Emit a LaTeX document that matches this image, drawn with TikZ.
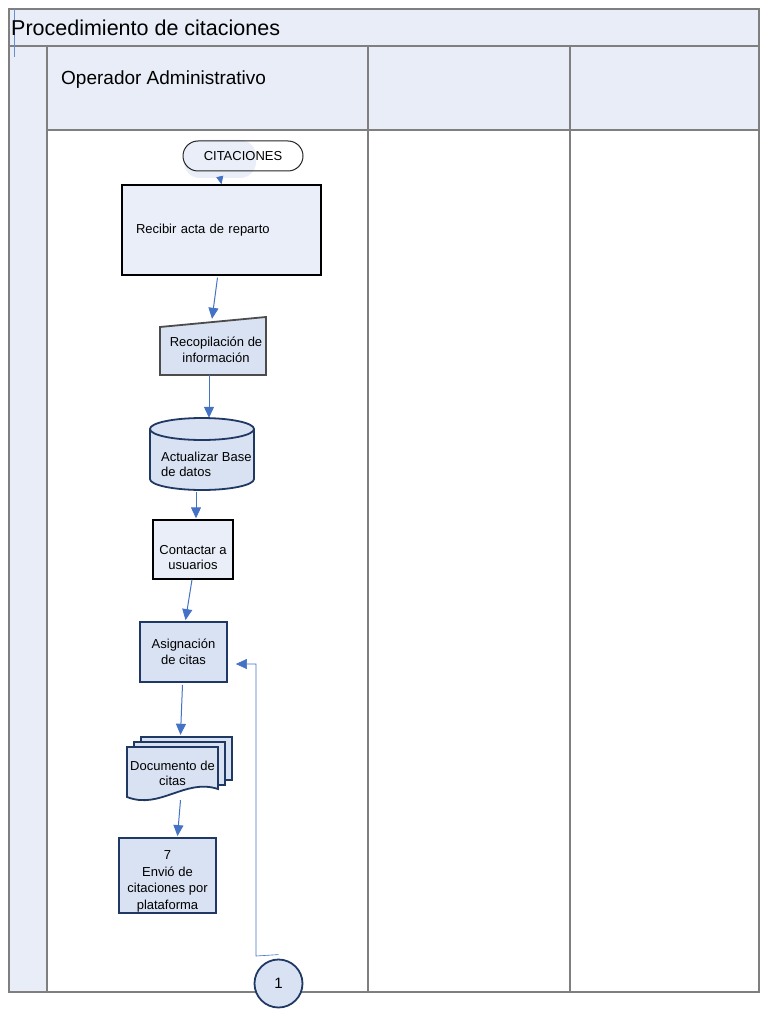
\documentclass[tikz,border=0pt]{standalone}
\usepackage{fontspec}
\setmainfont{Liberation Sans}
\usetikzlibrary{positioning,calc,arrows.meta}
\definecolor{banda}{HTML}{E8EDF7}
\definecolor{claro}{HTML}{E9EEF8}
\definecolor{relleno}{HTML}{D9E2F3}
\definecolor{azul}{HTML}{4472C4}
\definecolor{marino}{HTML}{1F3864}
\definecolor{marco}{HTML}{7F7F7F}

\begin{document}
\begin{tikzpicture}[x=1pt,y=-1pt,
	every node/.style={font=\fontsize{13}{15.5}\selectfont,align=center,inner sep=0pt},
	linea/.style={draw=marco,line width=1.2pt},
	flecha/.style={draw=azul,line width=1pt,-{Triangle[length=11pt,width=10pt]}},
	caja/.style={draw=#1,line width=1.8pt,fill=relleno},
	pagina/.style={draw=marino,line width=1.8pt,fill=relleno}]

\useasboundingbox (0,0) rectangle (768,1016);

\fill[banda] (9,9) rectangle (759,46);
\fill[banda] (9,46) rectangle (47,992);
\fill[banda] (47,46) rectangle (759,130);
\fill[white] (47,130) rectangle (759,992);
\draw[linea] (9,9) rectangle (759,992);
\draw[linea] (9,46) -- (759,46);
\draw[linea] (47,46) -- (47,992);
\foreach \x in {368,570}{
	\draw[linea] (\x,46) -- (\x,992);
}
\draw[linea] (47,130) -- (759,130);
\draw[azul!80,line width=0.7pt] (14,9) -- (14,57);

\node[anchor=west,font=\fontsize{21.5}{24}\selectfont](titulo) at (11,28) {Procedimiento de citaciones};
\node[anchor=west,font=\fontsize{19}{22}\selectfont](carril) at (61,80) {Operador Administrativo};

\fill[claro,rounded corners=16pt] (184,140) rectangle (256,178);
\node[draw=black!85,line width=1pt,rounded corners=15pt,minimum width=120,minimum height=30](inicio) at (243,156) {CITACIONES};

\node[caja=black,fill=claro,line width=1.4pt,minimum width=199,minimum height=90,text width=171,align=left](recibir) at (221.5,230) {Recibir acta de reparto};

\draw[caja=black!70] (160,327) -- (266,317) -- (266,375) -- (160,375) -- cycle;
\node[minimum width=106,minimum height=58](recop) at (213,346) {};
\node(recoptxt) at (216,350) {Recopilaci\'on de\\informaci\'on};

\draw[caja=marino] (150,429) -- (150,479) arc[start angle=180,end angle=360,x radius=52pt,y radius=11pt] -- (254,429) arc[start angle=0,end angle=180,x radius=52pt,y radius=11pt] -- cycle;
\draw[draw=marino,line width=1.8pt] (150,429) arc[start angle=180,end angle=360,x radius=52pt,y radius=11pt];
\node[minimum width=104,minimum height=72](base) at (202,454) {};
\node[anchor=west,align=left](basetxt) at (161,464.5) {Actualizar Base\\de datos};

\node[caja=black,fill=claro,line width=1.4pt,minimum width=80,minimum height=59](contactar) at (193,549.5) {};
\node(contactartxt) at (193,557.5) {Contactar a\\usuarios};

\node[caja=marino,minimum width=87,minimum height=60](asign) at (183.5,652) {Asignaci\'on\\de citas};

\foreach \dx/\dy/\b in {14/10/780,7/5/785}{
	\draw[pagina] (127+\dx,747-\dy) rectangle (218+\dx,\b);
}
\draw[pagina] (127,747) -- (218,747) -- (218,789) .. controls (185,778) and (160,810) .. (127,797) -- cycle;
\node[minimum width=91,minimum height=53](doc) at (172.5,773.5) {};
\node(doctxt) at (172.5,773.5) {Documento de\\citas};

\node[caja=marino,minimum width=97,minimum height=75](envio) at (167.5,875.5) {};
\node[font=\fontsize{13}{16.5}\selectfont](enviotxt) at (167.5,881.5) {7\\Envi\'o de\\citaciones por\\plataforma};

\node[circle,draw=marino,line width=1.8pt,fill=relleno,minimum size=48,font=\fontsize{15}{18}\selectfont](conector) at (278.5,983.5) {1};

\draw[flecha,line width=0.7pt,-{Triangle[length=8pt,width=7pt]}] ($(inicio.south)+(-23,6)$) -- (recibir.north);
\draw[flecha] ($(recibir.south)+(-4,2)$) -- ($(recop.north)+(-1,2)$);
\draw[flecha] ($(recop.south)+(-4,0)$) -- ($(base.north)+(7,0)$);
\draw[flecha] ($(base.south)+(-6,2)$) -- ($(contactar.north)+(3,-1)$);
\draw[flecha] ($(contactar.south)+(-1,0)$) -- ($(asign.north)+(2,-1)$);
\draw[flecha] ($(asign.south)+(-1,2)$) -- ($(doc.north)+(8,-12)$);
\draw[flecha] ($(doc.south)+(8,0)$) -- ($(envio.north)+(10,-1)$);
\coordinate(giro) at (256,956);
\draw[flecha,line width=0.6pt] ($(conector.north)+(0,-4)$) -- (giro) |- ($(asign.east)+(8,12)$);

\end{tikzpicture}
\end{document}
